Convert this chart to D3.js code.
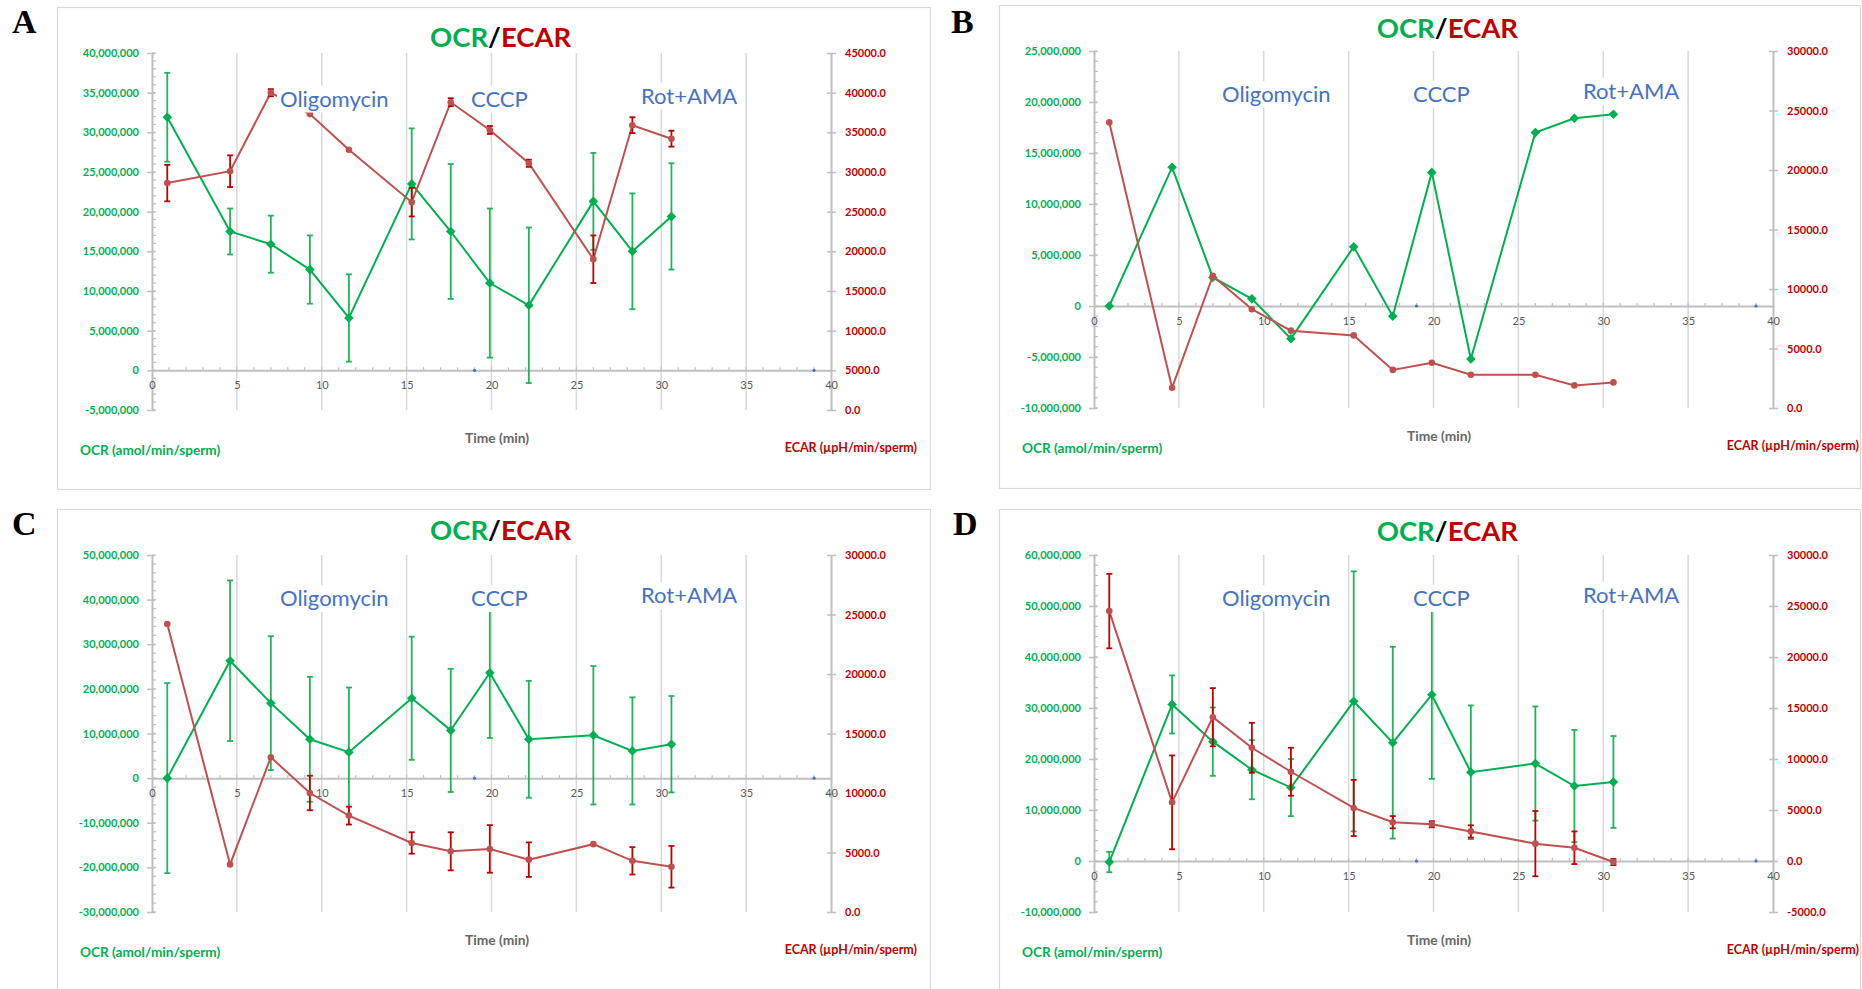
<!DOCTYPE html>
<html>
<head>
<meta charset="utf-8">
<script src="https://cdn.jsdelivr.net/npm/d3@7"></script>
<style>
  body { margin: 0; background: #fff; }
  svg { display: block; }
</style>
</head>
<body>
<div class="chart"></div>
<script>
// sampling times (min), shared by all four runs
const times = [0.9, 4.6, 7.0, 9.3, 11.6, 15.3, 17.6, 19.9, 22.2, 26.0, 28.3, 30.6]
const xTicks = [0, 5, 10, 15, 20, 25, 30, 35, 40]
const injections = ["Oligomycin", "CCCP", "Rot+AMA"]
// small blue points lying on the time axis
const axisMarks = [19, 39]

// A
const ocrA = [31900000, 17500000, 15900000, 12700000, 6600000, 23500000, 17500000, 11000000, 8200000, 21300000, 15000000, 19400000]
const ocrErrA = [5600000, 2900000, 3600000, 4300000, 5500000, 7000000, 8500000, 9400000, 9800000, 6100000, 7300000, 6700000]
const ecarA = [28600, 30100, 40000, 37300, 32800, 26200, 38800, 35300, 31100, 19000, 35900, 34200]
const ecarErrA = [2300, 2000, 450, 0, 0, 1800, 500, 500, 450, 3000, 1000, 1000]
const ocrRangeA = [-5000000, 40000000]
const ecarRangeA = [0, 45000]

// B
const ocrB = [0, 13600000, 2800000, 700000, -3200000, 5800000, -1000000, 13100000, -5200000, 17000000, 18400000, 18800000]
const ecarB = [24000, 1700, 11100, 8300, 6500, 6100, 3200, 3800, 2800, 2800, 1900, 2150]
const ocrRangeB = [-10000000, 25000000]
const ecarRangeB = [0, 30000]

// C
const ocrC = [0, 26300000, 16800000, 8700000, 5800000, 17900000, 10700000, 23600000, 8700000, 9600000, 6100000, 7600000]
const ocrErrC = [21300000, 18000000, 15000000, 14000000, 14500000, 13800000, 13800000, 14600000, 13100000, 15500000, 12000000, 10800000]
const ecarC = [24200, 4000, 13000, 10000, 8100, 5800, 5100, 5300, 4400, 5700, 4300, 3800]
const ecarErrC = [0, 0, 0, 1450, 750, 900, 1600, 2000, 1450, 0, 1150, 1750]
const ocrRangeC = [-30000000, 50000000]
const ecarRangeC = [0, 30000]

// D
const ocrD = [-200000, 30700000, 23400000, 17900000, 14400000, 31300000, 23200000, 32600000, 17400000, 19100000, 14700000, 15500000]
const ocrErrD = [2000000, 5700000, 6700000, 5800000, 5600000, 25500000, 18800000, 16500000, 13100000, 11200000, 11000000, 9000000]
const ecarD = [24500, 5750, 14100, 11100, 8750, 5200, 3800, 3600, 2900, 1700, 1300, -100]
const ecarErrD = [3650, 4600, 2850, 2450, 2350, 2750, 600, 300, 600, 3200, 1600, 300]
const ocrRangeD = [-10000000, 60000000]
const ecarRangeD = [-5000, 30000]

const panels = [
  { letter: "A", box: [57, 7, 873, 482], letterAt: [12, 33], title: [278, -6.5], labelDy: 2.5,
    ocr: ocrA, ocrErr: ocrErrA, ecar: ecarA, ecarErr: ecarErrA,
    ocrRange: ocrRangeA, ocrStep: 5000000, ecarRange: ecarRangeA, ecarStep: 5000 },
  { letter: "B", box: [999, 5, 861, 483], letterAt: [951, 33], title: [282.7, -12.7], labelDy: 0,
    ocr: ocrB, ocrErr: null, ecar: ecarB, ecarErr: null,
    ocrRange: ocrRangeB, ocrStep: 5000000, ecarRange: ecarRangeB, ecarStep: 5000 },
  { letter: "C", box: [57, 509, 873, 490], letterAt: [12, 535], title: [278, -15], labelDy: 0,
    ocr: ocrC, ocrErr: ocrErrC, ecar: ecarC, ecarErr: ecarErrC,
    ocrRange: ocrRangeC, ocrStep: 10000000, ecarRange: ecarRangeC, ecarStep: 5000 },
  { letter: "D", box: [999, 509, 861, 490], letterAt: [953, 535], title: [282.7, -14.5], labelDy: 0,
    ocr: ocrD, ocrErr: ocrErrD, ecar: ecarD, ecarErr: ecarErrD,
    ocrRange: ocrRangeD, ocrStep: 10000000, ecarRange: ecarRangeD, ecarStep: 5000 },
]

// colours
const green = "#00b050", greenErr = "#1fb45a"
const redLine = "#c0504d", redErr = "#c00000", redText = "#c00000"
const axisGrey = "#bfbfbf", gridGrey = "#d9d9d9", blue = "#4472c4"
const font = "Lato, 'Open Sans', sans-serif"

// plot area inside each panel box
const plot = { dx: 95, dy: 46, w: 679, h: 357 }

const fmtOcr = (d) => d3.format(",")(d).replace("\u2212", "-")
const fmtEcar = (d) => d3.format(".1f")(d).replace("\u2212", "-")

const svg = d3.select(".chart").append("svg")
  .attr("width", 1862).attr("height", 989)
  .attr("viewBox", "0 0 1862 989")

panels.forEach((p) => drawPanel(p))

function drawPanel(p) {
  const [bx, by, bw, bh] = p.box

  // frame
  svg.append("rect")
    .attr("x", bx + 0.5).attr("y", by + 0.5)
    .attr("width", bw).attr("height", bh)
    .attr("fill", "#fff").attr("stroke", "#d9d9d9").attr("stroke-width", 1.2)

  // panel letter
  svg.append("text")
    .attr("x", p.letterAt[0]).attr("y", p.letterAt[1])
    .attr("font-family", "'Liberation Serif', 'DejaVu Serif', serif")
    .attr("font-weight", "bold").attr("font-size", 34)
    .text(p.letter)

  const g = svg.append("g")
    .attr("transform", `translate(${bx + plot.dx},${by + plot.dy})`)

  const x = d3.scaleLinear().domain([0, 40]).range([0, plot.w])
  const yL = d3.scaleLinear().domain(p.ocrRange).range([plot.h, 0])
  const yR = d3.scaleLinear().domain(p.ecarRange).range([plot.h, 0])
  const y0 = yL(0)

  // vertical grid lines
  g.append("g").selectAll("line")
    .data(xTicks.filter((t) => t > 0 && t < 40))
    .join("line")
    .attr("x1", (d) => x(d)).attr("x2", (d) => x(d))
    .attr("y1", 0).attr("y2", plot.h)
    .attr("stroke", gridGrey).attr("stroke-width", 1.5)

  // left axis (OCR)
  const ocrTicks = d3.range(p.ocrRange[0], p.ocrRange[1] + 1, p.ocrStep)
  const ocrMinor = d3.range(p.ocrRange[0], p.ocrRange[1] + 1, p.ocrStep / 5)
  const left = g.append("g")
    .call(d3.axisLeft(yL).tickValues(ocrTicks).tickFormat(fmtOcr)
      .tickSize(5).tickSizeOuter(0).tickPadding(8))
  left.select(".domain").attr("stroke", axisGrey).attr("stroke-width", 2)
  left.selectAll(".tick line").attr("x1", 3).attr("stroke", axisGrey).attr("stroke-width", 1.5)
  left.selectAll("text")
    .attr("fill", green).attr("font-family", font)
    .attr("font-weight", "bold").attr("font-size", 11)
  g.append("g").selectAll("line")
    .data(ocrMinor)
    .join("line")
    .attr("x1", 0).attr("x2", 4)
    .attr("y1", (d) => yL(d)).attr("y2", (d) => yL(d))
    .attr("stroke", axisGrey).attr("stroke-width", 1.2)

  // right axis (ECAR)
  const ecarTicks = d3.range(p.ecarRange[0], p.ecarRange[1] + 1, p.ecarStep)
  const right = g.append("g")
    .attr("transform", `translate(${plot.w},0)`)
    .call(d3.axisRight(yR).tickValues(ecarTicks).tickFormat(fmtEcar)
      .tickSize(5).tickSizeOuter(0).tickPadding(9))
  right.select(".domain").attr("stroke", axisGrey).attr("stroke-width", 2)
  right.selectAll(".tick line").attr("x1", -4).attr("stroke", axisGrey).attr("stroke-width", 1.5)
  right.selectAll("text")
    .attr("fill", redText).attr("font-family", font)
    .attr("font-weight", "bold").attr("font-size", 11)

  // time axis on OCR = 0
  const bottom = g.append("g")
    .attr("transform", `translate(0,${y0})`)
    .call(d3.axisBottom(x).tickValues(xTicks).tickSize(0).tickSizeOuter(0).tickPadding(11))
  bottom.select(".domain").attr("stroke", axisGrey).attr("stroke-width", 2)
  bottom.selectAll("text")
    .attr("fill", "#595959").attr("font-family", font).attr("font-size", 11)
  g.append("g").selectAll("line")
    .data(d3.range(1, 40))
    .join("line")
    .attr("x1", (d) => x(d)).attr("x2", (d) => x(d))
    .attr("y1", y0 - 3).attr("y2", y0)
    .attr("stroke", axisGrey).attr("stroke-width", 1.2)
  g.append("g").selectAll("circle")
    .data(axisMarks)
    .join("circle")
    .attr("cx", (d) => x(d)).attr("cy", y0).attr("r", 1.6)
    .attr("fill", blue)

  // OCR series
  drawSeries(g, x, yL, p.ocr, p.ocrErr, green, greenErr, "diamond")
  // ECAR series (secondary axis, drawn on top)
  drawSeries(g, x, yR, p.ecar, p.ecarErr, redLine, redErr, "circle")

  // injection labels with white boxes
  const labelX = [128, 319, 489]
  const labelY = [51, 51, 48]
  injections.forEach((name, i) => {
    const lg = g.append("g")
    const t = lg.append("text")
      .attr("x", labelX[i]).attr("y", labelY[i] + p.labelDy)
      .attr("font-family", font).attr("font-size", 22)
      .attr("fill", blue)
      .text(name)
    const b = t.node().getBBox()
    lg.insert("rect", "text")
      .attr("x", b.x - 3).attr("y", b.y + 1)
      .attr("width", b.width + 6).attr("height", b.height)
      .attr("fill", "#fff")
  })

  // title
  const title = g.append("text")
    .attr("x", p.title[0]).attr("y", p.title[1])
    .attr("font-family", font).attr("font-weight", "bold").attr("font-size", 27.5)
  title.append("tspan").attr("fill", green).text("OCR")
  title.append("tspan").attr("fill", "#000").text("/")
  title.append("tspan").attr("fill", redText).text("ECAR")

  // axis titles
  g.append("text")
    .attr("x", -72).attr("y", plot.h + 45)
    .attr("font-family", font).attr("font-weight", "bold").attr("font-size", 13.6)
    .attr("fill", green)
    .text("OCR (amol/min/sperm)")
  g.append("text")
    .attr("x", 345).attr("y", plot.h + 33)
    .attr("text-anchor", "middle")
    .attr("font-family", font).attr("font-weight", "bold").attr("font-size", 13.8)
    .attr("fill", "#666")
    .text("Time (min)")
  g.append("text")
    .attr("x", plot.w + 86).attr("y", plot.h + 42)
    .attr("text-anchor", "end")
    .attr("font-family", font).attr("font-weight", "bold").attr("font-size", 12.5)
    .attr("fill", redText)
    .text("ECAR (µpH/min/sperm)")
}

function drawSeries(g, x, y, values, errors, lineColor, errColor, marker) {
  const pts = times.map((t, i) => ({ t, v: values[i], e: errors ? errors[i] : 0 }))

  g.append("path")
    .datum(pts)
    .attr("fill", "none")
    .attr("stroke", lineColor)
    .attr("stroke-width", 2)
    .attr("d", d3.line().x((d) => x(d.t)).y((d) => y(d.v)))

  const bars = g.append("g").selectAll("g")
    .data(pts.filter((d) => d.e > 0))
    .join("g")
    .attr("stroke", errColor).attr("stroke-width", 1.8)
  bars.append("line")
    .attr("x1", (d) => x(d.t)).attr("x2", (d) => x(d.t))
    .attr("y1", (d) => y(d.v - d.e)).attr("y2", (d) => y(d.v + d.e))
  bars.append("line")
    .attr("x1", (d) => x(d.t) - 3).attr("x2", (d) => x(d.t) + 3)
    .attr("y1", (d) => y(d.v + d.e)).attr("y2", (d) => y(d.v + d.e))
  bars.append("line")
    .attr("x1", (d) => x(d.t) - 3).attr("x2", (d) => x(d.t) + 3)
    .attr("y1", (d) => y(d.v - d.e)).attr("y2", (d) => y(d.v - d.e))

  if (marker === "diamond") {
    g.append("g").selectAll("path")
      .data(pts)
      .join("path")
      .attr("d", "M0,-4.8L4.8,0L0,4.8L-4.8,0Z")
      .attr("transform", (d) => `translate(${x(d.t)},${y(d.v)})`)
      .attr("fill", lineColor)
  } else {
    g.append("g").selectAll("circle")
      .data(pts)
      .join("circle")
      .attr("cx", (d) => x(d.t)).attr("cy", (d) => y(d.v))
      .attr("r", 3.3)
      .attr("fill", lineColor)
  }
}
</script>
</body>
</html>
